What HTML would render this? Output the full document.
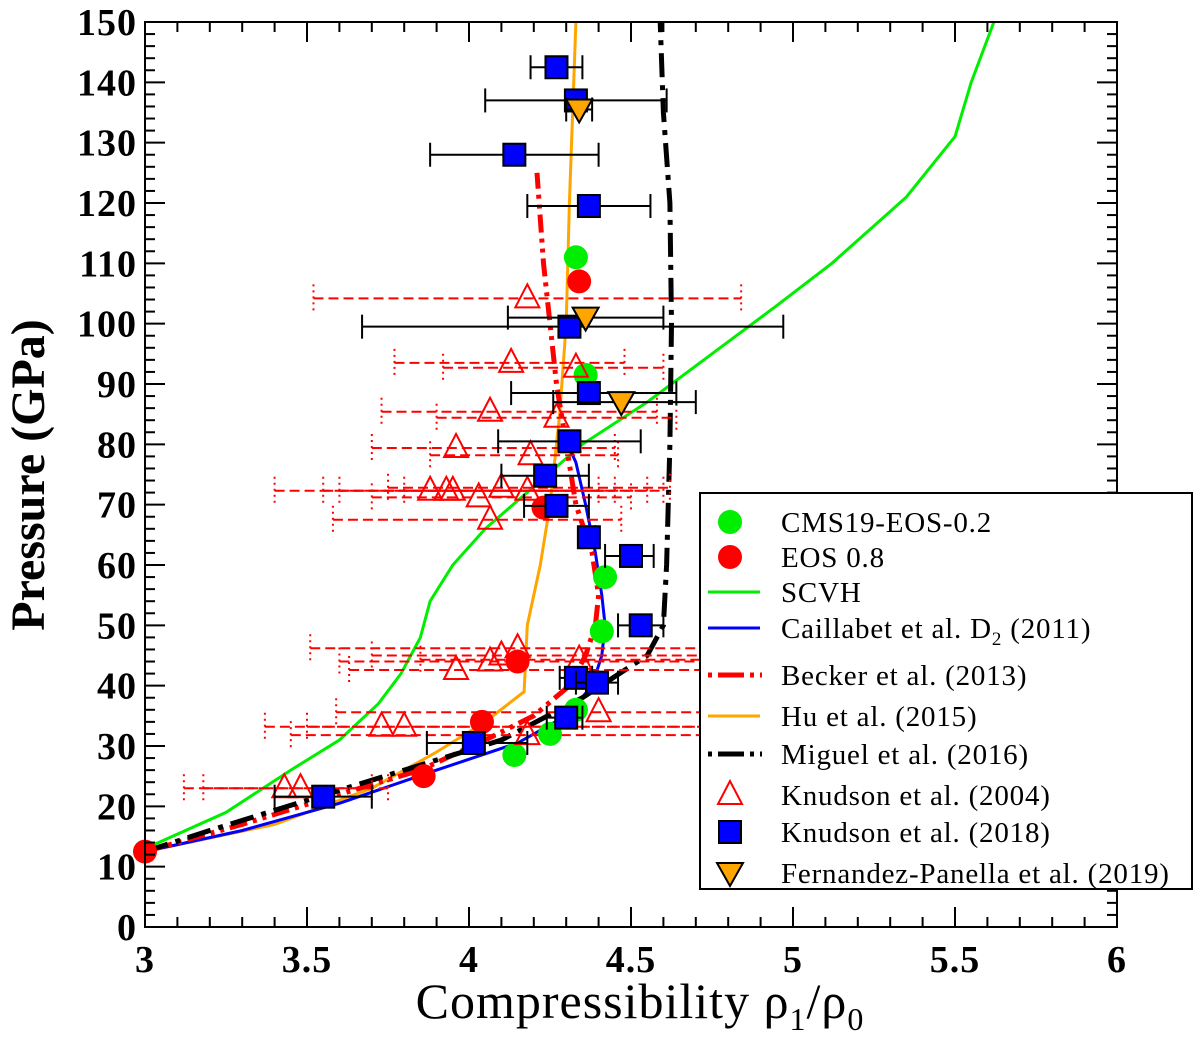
<!DOCTYPE html>
<html><head><meta charset="utf-8"><style>
html,body{margin:0;padding:0;background:#fff;}
svg{display:block;font-family:"Liberation Serif",serif;}
</style></head><body>
<svg id="chart" width="1200" height="1048" viewBox="0 0 1200 1048" xmlns="http://www.w3.org/2000/svg">
<rect x="0" y="0" width="1200" height="1048" fill="#fff"/>
<g id="plot"></g>
<text x="0" y="0" transform="translate(44,475) rotate(-90)" text-anchor="middle" font-size="48" font-weight="bold">Pressure (GPa)</text>
<text x="640" y="1018" text-anchor="middle" font-size="50" letter-spacing="1">Compressibility ρ<tspan font-size="32" dy="12">1</tspan><tspan dy="-12">/ρ</tspan><tspan font-size="32" dy="12">0</tspan></text>
</svg>
<script>
const xTicks=[3,3.5,4,4.5,5,5.5,6];
const xTickLabels=["3","3.5","4","4.5","5","5.5","6"];
const yTicks=[0,10,20,30,40,50,60,70,80,90,100,110,120,130,140,150];
const cmsX=[4.33,4.36,4.42,4.41,4.33,4.25,4.14];
const cmsP=[111,91.5,58,49,36,32,28.5];
const eosX=[4.34,4.23,4.15,4.04,3.86,3.0];
const eosP=[107,69.5,44,34,25,12.5];
const k18X=[4.27,4.33,4.14,4.37,4.31,4.37,4.31,4.235,4.27,4.37,4.50,4.53,4.33,4.395,4.30,4.015,3.55];
const k18P=[142.5,137,128,119.5,99.5,88.5,80.5,74.8,69.8,64.6,61.5,50,41.3,40.5,34.7,30.5,21.6];
const k18Lo=[4.19,4.05,3.88,4.18,3.67,4.13,4.09,4.10,4.17,4.35,4.42,4.46,4.28,4.33,4.24,3.87,3.40];
const k18Hi=[4.35,4.61,4.40,4.56,4.97,4.64,4.53,4.37,4.37,4.39,4.57,4.60,4.38,4.46,4.35,4.18,3.70];
const fpX=[4.34,4.36,4.47];
const fpP=[135.5,101,87];
const fpLo=[4.30,4.12,4.26];
const fpHi=[4.38,4.60,4.70];
const k04X=[4.18,4.13,4.33,4.065,4.27,3.96,4.19,3.88,3.93,3.95,4.03,4.10,4.18,4.065,4.15,4.10,4.065,3.96,4.34,4.40,3.73,3.80,4.18,3.43,3.48];
const k04P=[104.2,93.5,92.7,85.4,84.4,79.4,78.2,72.3,72.3,72.3,71.2,72.8,72.3,67.5,46.2,45,44,42.6,44.3,35.6,33.2,33.2,31.8,23,23];
const k04Lo=[3.52,3.77,3.92,3.73,3.90,3.70,3.88,3.40,3.55,3.60,3.70,3.75,3.80,3.58,3.51,3.70,3.60,3.63,3.85,3.59,3.37,3.50,3.45,3.12,3.18];
const k04Hi=[4.84,4.48,4.60,4.58,4.64,4.45,4.46,4.60,4.55,4.45,4.50,4.62,4.40,4.47,6.0,6.0,5.9,6.0,4.75,6.0,6.0,6.0,6.0,3.75,3.70];
const scvhX=[3.0,3.25,3.45,3.6,3.72,3.79,3.85,3.88,3.95,4.05,4.2,4.35,4.55,4.75,4.95,5.12,5.35,5.5,5.55,5.62];
const scvhP=[13,19,26,31,37,42,48,54,60,66,73,80,87,95,103,110,121,131,140,150];
const caiX=[3.0,3.3,3.6,3.9,4.15,4.3,4.38,4.41,4.42,4.41,4.39,4.36,4.33,4.30];
const caiP=[12.5,16,20.5,26,30.5,35,40,45,50,55,62,70,77,80.5];
const becX=[3.0,3.3,3.6,3.85,4.05,4.2,4.31,4.36,4.39,4.40,4.38,4.33,4.30,4.27,4.25,4.23,4.21];
const becP=[12.5,17,22,26,31,35,40,45,50,55,62,70,80,90,100,110,125];
const huX=[3.0,3.4,3.7,3.9,4.05,4.17,4.18,4.22,4.25,4.28,4.30,4.31,4.33];
const huP=[12.5,17,23,29,34,39,50,60,70,85,100,120,150];
const migX=[3.0,3.2,3.5,3.8,4.1,4.35,4.55,4.60,4.61,4.62,4.625,4.62,4.60,4.59];
const migP=[12.5,16,21,26,31,38,45,50,60,80,100,120,135,150];

const L=145,R=1117,T=22,B=927;
const sx=v=>L+(v-3)/3*(R-L);
const sy=v=>B-v/150*(B-T);
const NS="http://www.w3.org/2000/svg";
const g=document.getElementById('plot');
function mk(tag,attrs,parent){const e=document.createElementNS(NS,tag);for(const k in attrs)e.setAttribute(k,attrs[k]);(parent||g).appendChild(e);return e;}
function pts(xs,ps){return xs.map((x,i)=>sx(x).toFixed(1)+','+sy(ps[i]).toFixed(1)).join(' ');}

let e;
e=mk('polyline',{points:pts(scvhX,scvhP),fill:'none',stroke:'#00ee00','stroke-width':3});


e=mk('polyline',{points:pts(huX,huP),fill:'none',stroke:'#ffa500','stroke-width':3});


e=mk('polyline',{points:pts(caiX,caiP),fill:'none',stroke:'#0000ff','stroke-width':3});


e=mk('polyline',{points:pts(becX,becP),fill:'none',stroke:'#ff0000','stroke-width':5,'stroke-dasharray':'18,6,4,6,4,6'});


e=mk('polyline',{points:pts(migX,migP),fill:'none',stroke:'#000','stroke-width':5,'stroke-dasharray':'24,8,5,8'});



k04X.forEach((x,i)=>{
  const y=sy(k04P[i]),lo=sx(k04Lo[i]),hi=Math.min(sx(k04Hi[i]),R);
  const eb=mk('line',{x1:lo,x2:hi,y1:y,y2:y,stroke:'#ff0000','stroke-width':2,'stroke-dasharray':'10,5'});
  
  
  [lo,hi].forEach(cx=>{if(cx<R){mk('line',{x1:cx,x2:cx,y1:y-14,y2:y+14,stroke:'#ff0000','stroke-width':2,'stroke-dasharray':'2,4'});}});
});
cmsX.forEach((x,i)=>{
  const c=mk('circle',{cx:sx(x),cy:sy(cmsP[i]),r:12,fill:'#00ee00'});
  
  
});
eosX.forEach((x,i)=>{
  const c=mk('circle',{cx:sx(x),cy:sy(eosP[i]),r:12,fill:'#ff0000'});
  
  
});
k04X.forEach((x,i)=>{
  const cx=sx(x),cy=sy(k04P[i]);
  const t=mk('polygon',{points:`${cx},${cy-14} ${cx-12},${cy+9} ${cx+12},${cy+9}`,fill:'none',stroke:'#ff0000','stroke-width':2});
  
  
});
function errbar(x,lo,hi,p,name){
  const y=sy(p);
  const l=mk('line',{x1:sx(lo),x2:sx(hi),y1:y,y2:y,stroke:'#000','stroke-width':2});
  
  
  mk('line',{x1:sx(lo),x2:sx(lo),y1:y-12,y2:y+12,stroke:'#000','stroke-width':2});
  mk('line',{x1:sx(hi),x2:sx(hi),y1:y-12,y2:y+12,stroke:'#000','stroke-width':2});
}
k18X.forEach((x,i)=>{
  errbar(x,k18Lo[i],k18Hi[i],k18P[i],'knudson-2018-errorbar');
  const s=mk('rect',{x:sx(x)-11,y:sy(k18P[i])-11,width:22,height:22,fill:'#0000ff',stroke:'#000','stroke-width':2});
  
  
});
fpX.forEach((x,i)=>{
  errbar(x,fpLo[i],fpHi[i],fpP[i],'fernandez-panella-errorbar');
  const cx=sx(x),cy=sy(fpP[i]);
  const t=mk('polygon',{points:`${cx-13},${cy-10} ${cx+13},${cy-10} ${cx},${cy+13}`,fill:'#ffa500',stroke:'#000','stroke-width':2});
  
  
});

const fr=mk('rect',{x:L,y:T,width:R-L,height:B-T,fill:'none',stroke:'#000','stroke-width':2});


for(let v=0;v<=150.001;v+=2){
  const y=sy(v),len=(Math.round(v)%10===0)?20:10;
  mk('line',{x1:L,x2:L+len,y1:y,y2:y,stroke:'#000','stroke-width':2});
  mk('line',{x1:R,x2:R-len,y1:y,y2:y,stroke:'#000','stroke-width':2});
}
for(let k=0;k<=30;k++){
  const x=sx(3+k*0.1),len=(k%5===0)?20:10;
  mk('line',{x1:x,x2:x,y1:B,y2:B-len,stroke:'#000','stroke-width':2});
  mk('line',{x1:x,x2:x,y1:T,y2:T+len,stroke:'#000','stroke-width':2});
}
yTicks.forEach(v=>{
  const t=mk('text',{x:L-8,y:sy(v)+13,'text-anchor':'end','font-size':38,'font-weight':'bold','letter-spacing':1});
  t.textContent=String(v);
  
  
});
xTicks.forEach((v,i)=>{
  const t=mk('text',{x:sx(v),y:B+45,'text-anchor':'middle','font-size':38,'font-weight':'bold','letter-spacing':1});
  t.textContent=xTickLabels[i];
  
  
});

const lg=mk('g',{});


mk('rect',{x:700,y:493,width:492,height:396,fill:'#fff',stroke:'#000','stroke-width':2},lg);
const rows=[
 ['CMS19-EOS-0.2',522,'gc'],['EOS 0.8',557,'rc'],['SCVH',592,'gl'],['Caillabet et al. D2 (2011)',628,'bl'],
 ['Becker et al. (2013)',675,'rd'],['Hu et al. (2015)',716,'ol'],['Miguel et al. (2016)',754,'kd'],
 ['Knudson et al. (2004)',795,'tri'],['Knudson et al. (2018)',832,'sq'],['Fernandez-Panella et al. (2019)',873,'dt']];
rows.forEach(([label,y,k])=>{
  const cx=730;
  if(k==='gc')mk('circle',{cx,cy:y,r:12,fill:'#00ee00'},lg);
  if(k==='rc')mk('circle',{cx,cy:y,r:12,fill:'#ff0000'},lg);
  if(k==='gl')mk('line',{x1:708,x2:760,y1:y,y2:y,stroke:'#00ee00','stroke-width':3},lg);
  if(k==='bl')mk('line',{x1:708,x2:760,y1:y,y2:y,stroke:'#0000ff','stroke-width':3},lg);
  if(k==='ol')mk('line',{x1:708,x2:760,y1:y,y2:y,stroke:'#ffa500','stroke-width':3},lg);
  if(k==='rd')mk('line',{x1:708,x2:762,y1:y,y2:y,stroke:'#ff0000','stroke-width':5,'stroke-dasharray':'4,6,26,6'},lg);
  if(k==='kd')mk('line',{x1:708,x2:762,y1:y,y2:y,stroke:'#000','stroke-width':5,'stroke-dasharray':'4,6,26,6'},lg);
  if(k==='tri')mk('polygon',{points:`${cx},${y-14} ${cx-12},${y+9} ${cx+12},${y+9}`,fill:'none',stroke:'#ff0000','stroke-width':2},lg);
  if(k==='sq')mk('rect',{x:cx-11,y:y-11,width:22,height:22,fill:'#0000ff',stroke:'#000','stroke-width':2},lg);
  if(k==='dt')mk('polygon',{points:`${cx-13},${y-10} ${cx+13},${y-10} ${cx},${y+13}`,fill:'#ffa500',stroke:'#000','stroke-width':2},lg);
  const t=mk('text',{x:781,y:y+10,'font-size':29,'letter-spacing':0.8},lg);
  if(k==='bl'){t.innerHTML='Caillabet et al. D<tspan font-size="19" dy="7">2</tspan><tspan dy="-7"> (2011)</tspan>';}
  else t.textContent=label;
  
  
});
</script>
</body></html>
